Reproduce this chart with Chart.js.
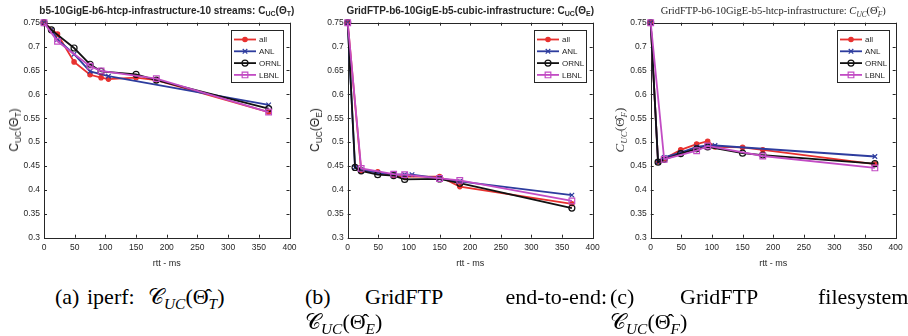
<!DOCTYPE html>
<html>
<head>
<meta charset="utf-8">
<script src="https://cdn.jsdelivr.net/npm/chart.js@4.4.1/dist/chart.umd.min.js"></script>
<style>
  html, body { margin: 0; padding: 0; background: #fff; }
  #page { position: relative; width: 908px; height: 336px; overflow: hidden; }
  canvas { position: absolute; top: 0; }
  .ttl { position: absolute; top: 5px; transform: translateX(-50%); white-space: nowrap;
         font: bold 10px "Liberation Sans", Arial, sans-serif; color: #262626; }
  .ttl.tex { font: 10.5px "Liberation Serif", serif; }
  .ylab { position: absolute; white-space: nowrap; transform: translate(-50%, -50%) rotate(-90deg);
          font: 12px "Liberation Sans", Arial, sans-serif; color: #262626; }
  .ylab.tex { font: 13px "Liberation Serif", serif; color: #404040; }
  sub { font-size: 70%; vertical-align: -0.35em; line-height: 0; }
  .cap { position: absolute; white-space: nowrap; font-family: "Liberation Serif", "Times New Roman", serif;
         font-size: 22px; color: #000; }
  .cap.r { transform: translateX(-100%); }
</style>
</head>
<body>
<div id="page">
  <canvas id="c1" width="304" height="280" style="left:0px"></canvas>
  <canvas id="c2" width="304" height="280" style="left:300px"></canvas>
  <canvas id="c3" width="308" height="280" style="left:600px"></canvas>

  <div class="ttl" style="left:166.8px">b5-10GigE-b6-htcp-infrastructure-10 streams: C<sub>UC</sub>(&Theta;<sub>T</sub>)</div>
  <div class="ttl" style="left:470.2px">GridFTP-b6-10GigE-b5-cubic-infrastructure: C<sub>UC</sub>(&Theta;<sub>E</sub>)</div>
  <div class="ttl tex" style="left:773.2px">GridFTP-b6-10GigE-b5-htcp-infrastructure: <i>C</i><sub><i>UC</i></sub>(&Theta;&#770;<sub><i>F</i></sub>)</div>

  <div class="ylab" style="left:14px;top:130px">C<sub>UC</sub>(&Theta;<sub>T</sub>)</div>
  <div class="ylab" style="left:315px;top:130px">C<sub>UC</sub>(&Theta;<sub>E</sub>)</div>
  <div class="ylab tex" style="left:620px;top:130px"><i>C</i><sub><i>UC</i></sub>(&Theta;&#770;<sub><i>F</i></sub>)</div>

  <div class="cap" style="left:55px;top:284px">(a)</div>
  <div class="cap" style="left:87px;top:284px">iperf:</div>
  <div class="cap" style="left:148px;top:284px">&#x1D49E;<sub><i>UC</i></sub>(&Theta;&#770;<sub><i>T</i></sub>)</div>

  <div class="cap" style="left:305px;top:284px">(b)</div>
  <div class="cap" style="left:365px;top:284px">GridFTP</div>
  <div class="cap r" style="left:607px;top:284px">end-to-end:</div>
  <div class="cap" style="left:305px;top:309px">&#x1D49E;<sub><i>UC</i></sub>(&Theta;&#770;<sub><i>E</i></sub>)</div>

  <div class="cap" style="left:610px;top:284px">(c)</div>
  <div class="cap" style="left:680px;top:284px">GridFTP</div>
  <div class="cap" style="left:818px;top:284px">filesystem:</div>
  <div class="cap" style="left:610px;top:309px">&#x1D49E;<sub><i>UC</i></sub>(&Theta;&#770;<sub><i>F</i></sub>)</div>
</div>

<script>
// rtt (ms) of each test path, shared by every series
const rtt = [0, 12, 22, 49, 75, 93, 105, 150, 183, 366];
const xTicks = [0, 50, 100, 150, 200, 250, 300, 350, 400];
const yTicks = [0.3, 0.35, 0.4, 0.45, 0.5, 0.55, 0.6, 0.65, 0.7, 0.75];
const seriesNames = ['all', 'ANL', 'ORNL', 'LBNL'];

// (a) iperf
const iperfAll  = [0.750, null, 0.726, 0.668, 0.641, 0.635, 0.632, 0.635, 0.630, 0.563];
const iperfANL  = [0.750, 0.735, 0.715, 0.684, 0.648, null, 0.638, null, null, 0.578];
const iperfORNL = [0.750, 0.735, null, 0.697, 0.663, 0.648, null, 0.642, 0.630, 0.570];
const iperfLBNL = [0.750, null, 0.711, null, 0.659, 0.649, null, null, 0.633, 0.563];

// (b) GridFTP end-to-end
const e2eAll  = [0.750, null, 0.440, 0.438, 0.429, 0.428, null, 0.428, 0.407, 0.371];
const e2eANL  = [0.750, 0.447, 0.442, 0.436, 0.432, 0.432, 0.432, 0.424, 0.418, 0.389];
const e2eORNL = [0.750, 0.447, 0.440, 0.432, 0.430, 0.422, null, 0.423, 0.414, 0.362];
const e2eLBNL = [0.750, null, 0.445, null, 0.433, 0.432, null, 0.424, 0.420, 0.377];

// (c) GridFTP filesystem
const fsAll  = [0.750, 0.459, 0.465, 0.484, 0.496, 0.502, 0.490, 0.489, 0.484, 0.454];
const fsANL  = [0.750, 0.459, 0.468, 0.478, 0.490, 0.493, 0.493, null, null, 0.470];
const fsORNL = [0.750, 0.458, 0.464, 0.476, 0.486, 0.490, null, 0.477, 0.473, 0.455];
const fsLBNL = [0.750, null, 0.464, null, 0.482, 0.492, null, null, 0.471, 0.446];

const colors = ['#e8312f', '#2d3c9e', '#111111', '#c24cc4'];
const markers = ['circle', 'crossRot', 'circle', 'rect'];
const markerSize = [2.2, 3.2, 3.0, 4.0];
const markerFilled = [true, false, false, false];
const axisColor = '#262626';
const tickFont = { family: 'Liberation Sans', size: 8.5 };

// MATLAB style box with inward ticks on all four sides
const frame = {
  id: 'frame',
  beforeDatasetsDraw(chart) {
    const { ctx, chartArea: a, scales: { x, y } } = chart;
    ctx.save();
    ctx.strokeStyle = axisColor;
    ctx.lineWidth = 1;
    ctx.beginPath();
    x.ticks.forEach(t => {
      const px = Math.round(x.getPixelForValue(t.value)) + 0.5;
      ctx.moveTo(px, a.bottom); ctx.lineTo(px, a.bottom - 3);
      ctx.moveTo(px, a.top); ctx.lineTo(px, a.top + 3);
    });
    y.ticks.forEach(t => {
      const py = Math.round(y.getPixelForValue(t.value)) + 0.5;
      ctx.moveTo(a.left, py); ctx.lineTo(a.left + 3, py);
      ctx.moveTo(a.right, py); ctx.lineTo(a.right - 3, py);
    });
    ctx.stroke();
    ctx.strokeRect(Math.round(a.left) + 0.5, Math.round(a.top) + 0.5,
                   Math.round(a.right - a.left), Math.round(a.bottom - a.top));
    ctx.restore();
  }
};

// boxed legend in the top right corner of the axes
const boxLegend = {
  id: 'boxLegend',
  afterDatasetsDraw(chart) {
    const { ctx, chartArea: a } = chart;
    const w = 52, h = 52;
    const x0 = Math.round(a.right - 7 - w), y0 = Math.round(a.top + 7);
    ctx.save();
    ctx.fillStyle = '#fff';
    ctx.fillRect(x0, y0, w, h);
    ctx.strokeStyle = axisColor;
    ctx.lineWidth = 1;
    ctx.strokeRect(x0 + 0.5, y0 + 0.5, w, h);
    chart.data.datasets.forEach((ds, i) => {
      const yy = y0 + 9.5 + i * 11.8;
      ctx.strokeStyle = ds.borderColor;
      ctx.lineWidth = ds.borderWidth;
      ctx.beginPath();
      ctx.moveTo(x0 + 3, yy); ctx.lineTo(x0 + 25, yy);
      ctx.stroke();
      ctx.fillStyle = ds.pointBackgroundColor;
      ctx.lineWidth = ds.pointBorderWidth;
      Chart.helpers.drawPoint(ctx, { pointStyle: ds.pointStyle, radius: ds.pointRadius,
        borderWidth: ds.pointBorderWidth, rotation: 0 }, x0 + 14, yy);
      ctx.fillStyle = axisColor;
      ctx.font = '8px "Liberation Sans"';
      ctx.textBaseline = 'middle';
      ctx.fillText(ds.label, x0 + 28, yy + 0.5);
    });
    ctx.restore();
  }
};

const makeChart = (id, values, padLeft, padRight) => new Chart(document.getElementById(id), {
  type: 'line',
  data: {
    labels: rtt,
    datasets: seriesNames.map((name, i) => ({
      label: name,
      data: values[i],
      borderColor: colors[i],
      borderWidth: 1.8,
      pointStyle: markers[i],
      pointRadius: markerSize[i],
      pointBorderWidth: 1.2,
      pointBorderColor: colors[i],
      pointBackgroundColor: markerFilled[i] ? colors[i] : 'rgba(0,0,0,0)',
      spanGaps: true,
      tension: 0,
      clip: false,
      order: seriesNames.length - i
    }))
  },
  options: {
    responsive: false,
    animation: false,
    events: [],
    layout: { padding: { left: padLeft, right: padRight, top: 22.7, bottom: 11.3 } },
    plugins: { legend: { display: false }, tooltip: { enabled: false } },
    scales: {
      x: {
        type: 'linear', min: 0, max: 400,
        afterBuildTicks: s => { s.ticks = xTicks.map(v => ({ value: v })); },
        afterFit: s => { s.height = 31; s.paddingLeft = 0; s.paddingRight = 0; },
        grid: { display: false, drawTicks: false },
        border: { display: false },
        ticks: { font: tickFont, color: axisColor, padding: 5, maxRotation: 0, autoSkip: false,
                 callback: v => String(v) },
        title: { display: true, text: 'rtt - ms', color: axisColor,
                 font: { family: 'Liberation Sans', size: 9 }, padding: { top: 0, bottom: 0 } }
      },
      y: {
        min: 0.3, max: 0.75,
        afterBuildTicks: s => { s.ticks = yTicks.map(v => ({ value: v })); },
        afterFit: s => { s.width = 44; s.paddingTop = 0; s.paddingBottom = 0; },
        grid: { display: false, drawTicks: false },
        border: { display: false },
        ticks: { font: tickFont, color: axisColor, padding: 4, autoSkip: false,
                 callback: v => String(+v.toFixed(2)) }
      }
    }
  },
  plugins: [frame, boxLegend]
});

makeChart('c1', [iperfAll, iperfANL, iperfORNL, iperfLBNL], 0, 14.5);
makeChart('c2', [e2eAll, e2eANL, e2eORNL, e2eLBNL], 3.7, 11.3);
makeChart('c3', [fsAll, fsANL, fsORNL, fsLBNL], 6.7, 12.3);
</script>
</body>
</html>
